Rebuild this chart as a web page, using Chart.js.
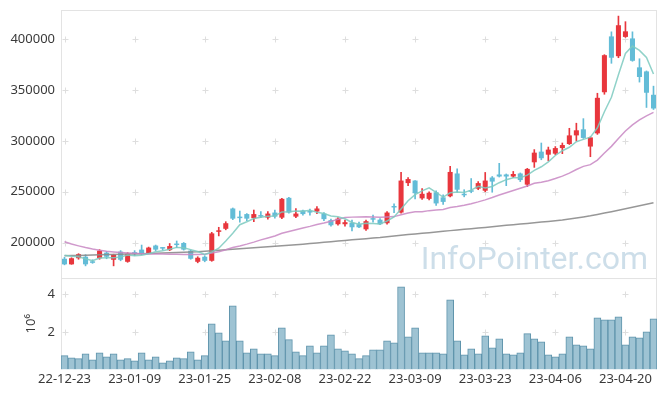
<!DOCTYPE html>
<html><head><meta charset="utf-8">
<script src="https://cdn.jsdelivr.net/npm/chart.js@4"></script>
<style>html,body{margin:0;padding:0;background:#fff;}#wrap{width:665px;height:396px;position:relative;}</style>
</head><body><div id="wrap"><canvas id="c" width="665" height="396"></canvas></div>
<script>
const dates = ['22-12-23','22-12-26','22-12-27','22-12-28','22-12-29',
'23-01-02','23-01-03','23-01-04','23-01-05','23-01-06','23-01-09','23-01-10','23-01-11','23-01-12','23-01-13',
'23-01-16','23-01-17','23-01-18','23-01-19','23-01-20','23-01-25','23-01-26','23-01-27','23-01-30','23-01-31',
'23-02-01','23-02-02','23-02-03','23-02-06','23-02-07','23-02-08','23-02-09','23-02-10','23-02-13','23-02-14',
'23-02-15','23-02-16','23-02-17','23-02-20','23-02-21','23-02-22','23-02-23','23-02-24','23-02-27','23-02-28',
'23-03-02','23-03-03','23-03-06','23-03-07','23-03-08','23-03-09','23-03-10','23-03-13','23-03-14','23-03-15',
'23-03-16','23-03-17','23-03-20','23-03-21','23-03-22','23-03-23','23-03-24','23-03-27','23-03-28','23-03-29',
'23-03-30','23-03-31','23-04-03','23-04-04','23-04-05','23-04-06','23-04-07','23-04-10','23-04-11','23-04-12',
'23-04-13','23-04-14','23-04-17','23-04-18','23-04-19','23-04-20','23-04-21','23-04-24','23-04-25','23-04-26'];

const opens = [184000,178500,184500,186000,181000,184500,190000,183000,191000,181000,
190000,193000,189000,197000,194500,192500,198000,199500,192000,181000,
186000,182000,210500,213500,233500,225000,228000,224000,227000,224500,
229500,224500,244000,225500,231500,230500,230500,228500,222000,218000,
218000,219500,218000,213000,223500,222500,219000,235000,229500,258500,
261000,243500,243000,249500,244500,245500,268000,247500,251000,253000,
251000,264000,267000,267000,265000,268000,257000,279000,289500,286500,
287500,293000,297000,305500,311500,294500,307500,348000,403000,383500,
402500,401000,372500,368500,345500];
const highs = [185500,185000,189000,188000,183000,193000,191000,188500,192000,190000,
192000,197500,195500,197500,195000,199000,201500,200000,192500,186000,
187000,210000,215000,220500,234000,231000,228500,232000,230500,230500,
232000,243500,244500,233500,232000,233000,235500,229500,223000,224500,
222000,222000,220000,222000,227000,223500,230500,238000,269000,264000,
261000,253000,250000,251000,247000,275000,272500,252000,263000,260000,
269000,265000,278000,267500,270000,268500,273000,291500,298000,294000,
294500,298000,312500,317500,322000,304000,347000,385000,407500,423000,
417500,407500,381000,369000,354000];
const lows = [178000,178500,183500,177000,179500,183500,184000,177000,182000,180500,
187000,188000,189000,192000,192500,192000,195000,192500,183500,180000,
181000,181500,206500,212500,222500,220000,221500,220500,224500,223000,
224000,223500,229000,224500,227000,227000,228500,221500,216000,217000,
216000,211500,214500,212000,220000,217500,218000,229500,229000,256000,
243000,242500,242000,236500,237500,245000,249500,245000,249000,252000,
250000,249500,264500,256000,264000,260000,255000,274000,281500,280500,
286500,287500,296500,300000,302500,284500,306500,346000,376500,382000,
402000,378500,358000,333000,331000];
const closes = [178500,184500,188500,178500,180000,192000,186000,188000,183000,189000,
189000,188500,195000,193000,194000,196500,197500,193000,184000,185000,
182000,209000,212000,219000,223500,224000,223500,228000,225500,228500,
225500,243000,229500,228500,228000,229500,233500,223000,217000,223500,
220000,215000,215000,221000,222500,218000,229500,234500,261000,262500,
248500,248000,249000,238500,240000,269500,252000,246500,250000,258500,
261000,260000,265000,265000,267500,261500,272500,288500,283000,291500,
293000,296000,305500,310500,303000,303500,342500,384500,382000,414000,
408000,379000,363000,347500,332000];
const volumes = [730000,620000,570000,830000,510000,880000,670000,830000,510000,570000,
460000,880000,510000,670000,350000,460000,620000,570000,940000,510000,
730000,2420000,1950000,1520000,3380000,1520000,880000,1100000,830000,830000,
730000,2210000,1580000,940000,730000,1260000,880000,1260000,1840000,1100000,
990000,830000,570000,730000,1040000,1040000,1520000,1420000,4390000,1730000,
2210000,880000,880000,880000,830000,3700000,1520000,780000,1100000,830000,
1790000,1150000,1630000,830000,780000,880000,1900000,1630000,1470000,780000,
670000,830000,1730000,1310000,1260000,1100000,2740000,2640000,2640000,2800000,
1310000,1730000,1680000,2000000,2690000];
const ma5 = [187500,186500,186000,184000,182000,184700,185000,184900,185800,187600,
187000,187500,188900,190900,191900,193400,195200,194800,193000,191200,
188300,190600,194400,201400,209100,217500,220400,223600,224900,225900,
226200,230100,230400,231000,230900,231700,229800,228500,226200,225300,
223400,219700,218100,218900,218700,218300,221200,225100,233100,241100,
247200,250900,253800,249300,244800,249000,249800,249300,251600,255300,
253600,255200,258900,261900,263700,263800,266300,271000,274600,279400,
285700,290400,293800,299300,301600,303700,313000,328800,343100,365300,
386200,393500,389200,382300,365900];
const ma20 = [200700,198500,196700,195000,193500,192300,191300,190700,190200,189700,
189300,189000,188800,188700,188600,188500,188400,188300,188200,188200,
188400,189600,190800,192800,195000,196600,198400,200400,202600,204500,
206400,209100,210800,212600,214300,215900,217700,219200,220900,222800,
224700,225000,225200,225300,225200,224900,225200,225500,227300,229000,
230200,230400,231400,231900,232500,234500,235400,236600,238200,240000,
242000,244300,246800,249000,251200,253400,255600,258300,259400,260800,
263000,265400,268300,271900,275000,276700,281200,288100,294700,302500,
309900,315800,320700,324800,328100];
const ma120 = [186900,187100,187300,187500,187700,187900,188100,188300,188500,188650,
188800,189000,189200,189400,189600,189850,190100,190350,190600,190800,
191300,191800,192300,192800,193300,193800,194300,194800,195300,195800,
196300,196800,197300,197900,198400,199000,199600,200200,200800,201400,
202000,202600,203200,203800,204400,204900,205600,206400,207100,207800,
208400,209100,209700,210400,211000,211700,212300,213000,213600,214300,
214900,215600,216200,216900,217500,218200,218800,219500,220100,220800,
221500,222200,223100,224100,225200,226300,227600,229000,230400,231800,
233200,234700,236100,237600,239200];
const priceTicks = [200000,250000,300000,350000,400000];
const volumeTicks = [2000000,4000000];

const UP = '#e8363d', DOWN = '#63bcd7';
const candleColors = closes.map((c,i)=> c >= opens[i] ? UP : DOWN);
const FONT = {family:'"Noto Sans", "DejaVu Sans", sans-serif', size:13};
const TXT = '#3a3a3a';

const framePlugin = {
  id:'frame',
  beforeDatasetsDraw(chart){
    const ctx = chart.ctx, a = chart.chartArea, y = chart.scales.y, yv = chart.scales.yv, x = chart.scales.x;
    ctx.save();
    ctx.strokeStyle = '#e3e3e3'; ctx.lineWidth = 1;
    ctx.beginPath();
    ctx.moveTo(a.left+0.5, y.top); ctx.lineTo(a.left+0.5, yv.bottom);
    ctx.moveTo(a.left, y.top+0.5); ctx.lineTo(a.right, y.top+0.5);
    ctx.moveTo(a.right-0.5, y.top); ctx.lineTo(a.right-0.5, yv.bottom);
    ctx.moveTo(a.left, yv.top+0.5); ctx.lineTo(a.right, yv.top+0.5);
    ctx.stroke();
    ctx.strokeStyle = '#dedede';
    const xs = [];
    for (let i=0;i<dates.length;i+=10) xs.push(Math.round(x.getPixelForValue(i))+0.5);
    const cross = (px,py)=>{ctx.moveTo(px-3,py);ctx.lineTo(px+3,py);ctx.moveTo(px,py-3);ctx.lineTo(px,py+3);};
    ctx.beginPath();
    priceTicks.forEach(v=>{const py=Math.round(y.getPixelForValue(v))+0.5; xs.forEach(px=>cross(px,py));});
    volumeTicks.forEach(v=>{const py=Math.round(yv.getPixelForValue(v))+0.5; xs.forEach(px=>cross(px,py));});
    ctx.stroke();
    ctx.font = '32px Roboto, "Noto Sans", sans-serif';
    ctx.fillStyle = 'rgba(160,192,212,0.52)';
    ctx.textAlign = 'right'; ctx.textBaseline = 'alphabetic';
    ctx.fillText('InfoPointer.com', 648, 269);
    ctx.restore();
  }
};

const fixV = s => { s.width = 61; s.paddingTop = 0; s.paddingBottom = 0; };

new Chart(document.getElementById('c'), {
  type:'bar',
  data:{
    labels: dates,
    datasets:[
      {type:'line', label:'MA5', data: ma5, yAxisID:'y', borderColor:'rgba(125,202,192,0.85)', borderWidth:1.5, pointRadius:0, order:1},
      {type:'line', label:'MA20', data: ma20, yAxisID:'y', borderColor:'rgba(200,135,195,0.85)', borderWidth:1.5, pointRadius:0, order:1},
      {type:'line', label:'MA120', data: ma120, yAxisID:'y', borderColor:'rgba(140,140,140,0.9)', borderWidth:1.5, pointRadius:0, order:1},
      {type:'bar', label:'body', data: opens.map((o,i)=>[Math.min(o,closes[i]), Math.max(o,closes[i])]), yAxisID:'y',
        backgroundColor: candleColors, grouped:false, barPercentage:0.72, categoryPercentage:1, minBarLength:1.5, order:2},
      {type:'bar', label:'wick', data: lows.map((l,i)=>[l, highs[i]]), yAxisID:'y',
        backgroundColor: candleColors, grouped:false, barThickness:1, order:3},
      {type:'bar', label:'volume', data: volumes, yAxisID:'yv', backgroundColor:'#9ec3d3', borderColor:'#5f94ac', borderWidth:1,
        grouped:false, barPercentage:1, categoryPercentage:1, order:4}
    ]
  },
  options:{
    responsive:false, animation:false, devicePixelRatio:1,
    layout:{padding:{top:10,right:8,left:0,bottom:7}},
    plugins:{legend:{display:false}, tooltip:{enabled:false}},
    scales:{
      x:{type:'category', offset:true, grid:{display:false, drawTicks:false}, border:{display:false},
        ticks:{autoSkip:false, maxRotation:0, minRotation:0, padding:2, color:TXT, font:FONT,
          callback:(v,i)=> i%10===0 ? dates[i] : ''}},
      y:{type:'linear', position:'left', stack:'p', stackWeight:267, weight:2, min:165000, max:429000,
        grid:{display:false, drawTicks:false}, border:{display:false},
        afterBuildTicks:s=>{s.ticks = priceTicks.map(v=>({value:v}));},
        afterFit: fixV,
        ticks:{padding:6, color:TXT, font:FONT, callback:v=>String(v)}},
      yv:{type:'linear', position:'left', stack:'p', stackWeight:91, weight:1, min:0, max:4860000,
        grid:{display:false, drawTicks:false}, border:{display:false},
        afterBuildTicks:s=>{s.ticks = volumeTicks.map(v=>({value:v}));},
        afterFit: fixV,
        title:{display:true, text:'10⁶', color:TXT, font:FONT, padding:{top:23,bottom:0}},
        ticks:{padding:6, color:TXT, font:FONT, callback:v=>String(v/1000000)}}
    }
  },
  plugins:[framePlugin]
});
</script></body></html>
